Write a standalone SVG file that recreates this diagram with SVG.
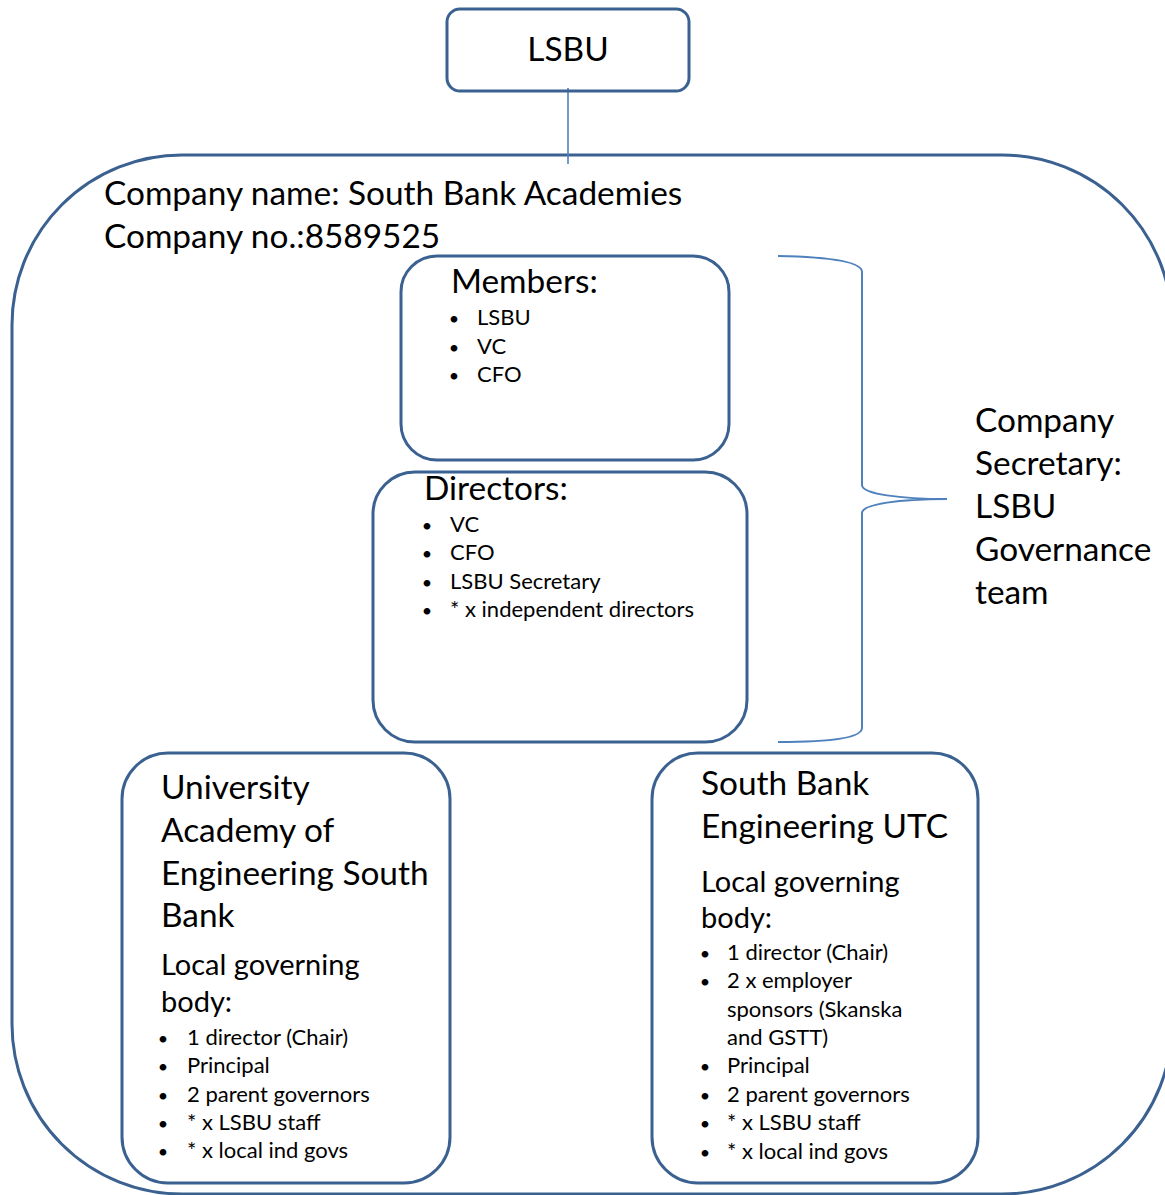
<svg xmlns="http://www.w3.org/2000/svg" width="1165" height="1195" viewBox="0 0 1165 1195">
<style>
.box{fill:none;stroke:#3b6191;stroke-width:3}
.conn{fill:none;stroke:#4f81bd;stroke-width:1.6}
.brace{fill:none;stroke:#4f81bd;stroke-width:2}
text{font-family:Lato,"Liberation Sans",sans-serif;fill:#000}
.t36{font-size:33.4px}
.t31{font-size:29px}
.t21{font-size:22px}
.b{text-anchor:middle;font-size:18px}
</style>
<rect width="1165" height="1195" fill="#fff"/>
<g id="company">
<rect class="box" x="12" y="155" width="1160" height="1039" rx="170" ry="170"/>
<text class="t36" x="104" y="205">Company name: South Bank Academies</text>
<text class="t36" x="104" y="248">Company no.:8589525</text>
</g>
<g id="connectors">
<line class="conn" x1="568" y1="88" x2="568" y2="164"/>
<path class="brace" d="M778,256 C830,257 862,262 862,272 L862,485 C862,494 900,499 947,499 C900,499 862,504 862,513 L862,728 C862,738 830,742 778,742"/>
</g>
<g id="lsbu">
<rect class="box" x="447" y="9" width="242" height="82" rx="13" ry="13"/>
<text class="t36" x="568" y="61" text-anchor="middle">LSBU</text>
</g>
<g id="members">
<rect class="box" x="401" y="256" width="328" height="204" rx="36" ry="36"/>
<text class="t36" x="451" y="293">Members:</text>
<text class="b" x="454" y="325">•</text><text class="t21" x="477" y="325">LSBU</text>
<text class="b" x="454" y="354">•</text><text class="t21" x="477" y="354">VC</text>
<text class="b" x="454" y="382">•</text><text class="t21" x="477" y="382">CFO</text>
</g>
<g id="directors">
<rect class="box" x="373" y="472" width="374" height="270" rx="42" ry="42"/>
<text class="t36" x="424" y="500">Directors:</text>
<text class="b" x="427" y="532">•</text><text class="t21" x="450" y="532">VC</text>
<text class="b" x="427" y="560">•</text><text class="t21" x="450" y="560">CFO</text>
<text class="b" x="427" y="589">•</text><text class="t21" x="450" y="589">LSBU Secretary</text>
<text class="b" x="427" y="617">•</text><text class="t21" x="450" y="617">* x independent directors</text>
</g>
<g id="secretary">
<text class="t36" x="975" y="432">Company</text>
<text class="t36" x="975" y="475">Secretary:</text>
<text class="t36" x="975" y="518">LSBU</text>
<text class="t36" x="975" y="561">Governance</text>
<text class="t36" x="975" y="604">team</text>
</g>
<g id="academy">
<rect class="box" x="122" y="753" width="328" height="430" rx="46" ry="46"/>
<text class="t36" x="161" y="799">University</text>
<text class="t36" x="161" y="842">Academy of</text>
<text class="t36" x="161" y="885">Engineering South</text>
<text class="t36" x="161" y="927">Bank</text>
<text class="t31" x="161" y="975">Local governing</text>
<text class="t31" x="161" y="1012">body:</text>
<text class="b" x="163" y="1045">•</text><text class="t21" x="187" y="1045">1 director (Chair)</text>
<text class="b" x="163" y="1073">•</text><text class="t21" x="187" y="1073">Principal</text>
<text class="b" x="163" y="1102">•</text><text class="t21" x="187" y="1102">2 parent governors</text>
<text class="b" x="163" y="1130">•</text><text class="t21" x="187" y="1130">* x LSBU staff</text>
<text class="b" x="163" y="1158">•</text><text class="t21" x="187" y="1158">* x local ind govs</text>
</g>
<g id="utc">
<rect class="box" x="652" y="753" width="326" height="430" rx="46" ry="46"/>
<text class="t36" x="701" y="795">South Bank</text>
<text class="t36" x="701" y="838">Engineering UTC</text>
<text class="t31" x="701" y="892">Local governing</text>
<text class="t31" x="701" y="928">body:</text>
<text class="b" x="705" y="960">•</text><text class="t21" x="727" y="960">1 director (Chair)</text>
<text class="b" x="705" y="988">•</text><text class="t21" x="727" y="988">2 x employer</text>
<text class="t21" x="727" y="1017">sponsors (Skanska</text>
<text class="t21" x="727" y="1045">and GSTT)</text>
<text class="b" x="705" y="1073">•</text><text class="t21" x="727" y="1073">Principal</text>
<text class="b" x="705" y="1102">•</text><text class="t21" x="727" y="1102">2 parent governors</text>
<text class="b" x="705" y="1130">•</text><text class="t21" x="727" y="1130">* x LSBU staff</text>
<text class="b" x="705" y="1159">•</text><text class="t21" x="727" y="1159">* x local ind govs</text>
</g>
</svg>
